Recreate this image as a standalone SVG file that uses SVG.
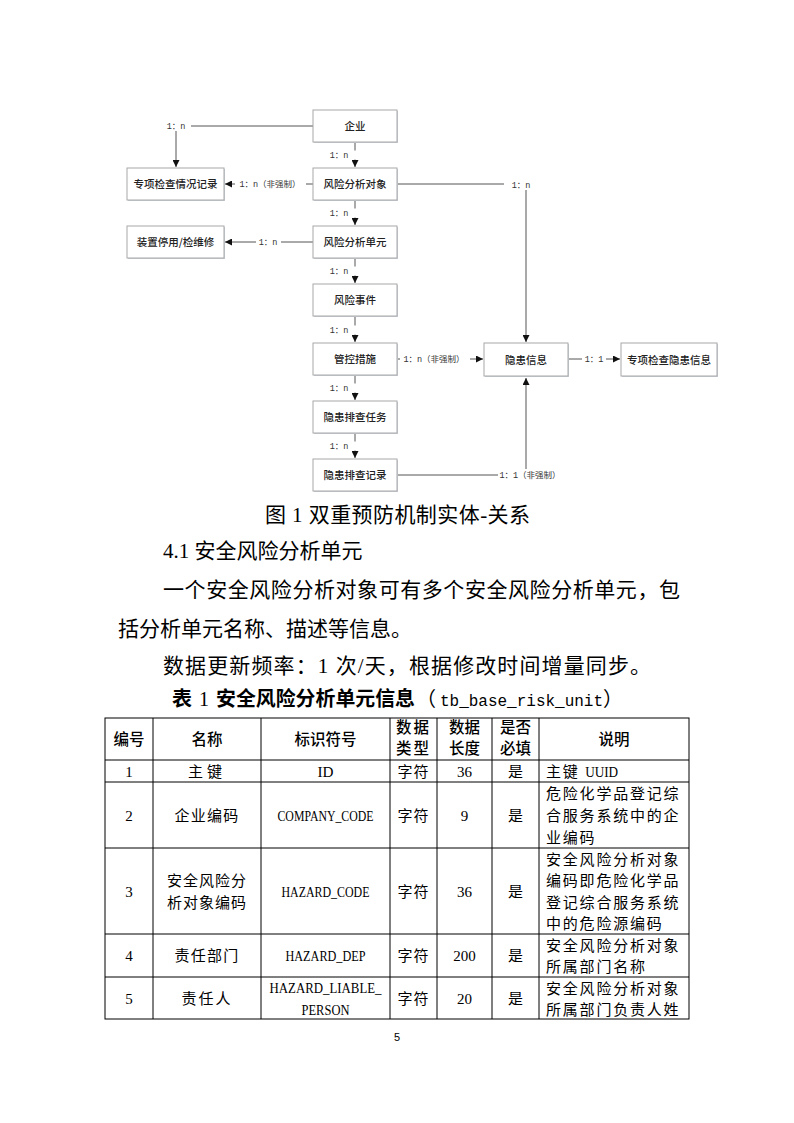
<svg xmlns="http://www.w3.org/2000/svg" width="794" height="1123" viewBox="0 0 794 1123">
<defs>
<marker id="arr" markerWidth="7" markerHeight="7" refX="7" refY="3.5" orient="auto" markerUnits="userSpaceOnUse"><path d="M0,0 L7,3.5 L0,7 z" fill="#111"/></marker>
<style>
.box{fill:#fff;stroke:#a8a8a8;stroke-width:1}
.sh{fill:#c9cfd8}
.nt{font-family:"Noto Sans CJK SC","Liberation Sans",sans-serif;font-size:10.5px;font-weight:500;fill:#222;text-anchor:middle}
.ln{fill:none;stroke:#555;stroke-width:1}
.lb{font-family:"Liberation Mono","Noto Sans CJK SC",monospace;font-size:8.5px;fill:#333;text-anchor:middle}
.bg{fill:#fff}
.p{font-family:"Liberation Serif","Noto Sans CJK SC",serif;font-size:21px;fill:#000}
.th{font-family:"Noto Sans CJK SC",sans-serif;font-size:15.5px;font-weight:500;fill:#000;text-anchor:middle}
.td{font-family:"Liberation Serif","Noto Sans CJK SC",serif;font-size:15px;fill:#000;text-anchor:middle}
.dl{font-family:"Liberation Serif","Noto Sans CJK SC",serif;font-size:15px;fill:#000;letter-spacing:1.8px}
.grid{stroke:#000;stroke-width:1;fill:none}
</style>
</defs>
<rect width="794" height="1123" fill="#fff"/>

<g id="connectors">
<path class="ln" d="M313,126 H176 V167" marker-end="url(#arr)"/>
<path class="ln" d="M355,142 V167" marker-end="url(#arr)"/>
<path class="ln" d="M355,200 V225" marker-end="url(#arr)"/>
<path class="ln" d="M355,258 V283" marker-end="url(#arr)"/>
<path class="ln" d="M355,316 V342" marker-end="url(#arr)"/>
<path class="ln" d="M355,375 V400" marker-end="url(#arr)"/>
<path class="ln" d="M355,433 V458" marker-end="url(#arr)"/>
<path class="ln" d="M313,184 H225" marker-end="url(#arr)"/>
<path class="ln" d="M313,242 H225" marker-end="url(#arr)"/>
<path class="ln" d="M397,184 H526 V342" marker-end="url(#arr)"/>
<path class="ln" d="M397,359 H483" marker-end="url(#arr)"/>
<path class="ln" d="M568,359 H620" marker-end="url(#arr)"/>
<path class="ln" d="M397,475 H526 V378" marker-end="url(#arr)"/>

<rect class="bg" x="163" y="120" width="28" height="11"/>
<text class="lb" x="176" y="129">1：n</text>
<rect class="bg" x="326" y="150.5" width="33" height="9"/>
<text class="lb" x="339" y="158">1：n</text>
<rect class="bg" x="326" y="208.5" width="33" height="9"/>
<text class="lb" x="339" y="216">1：n</text>
<rect class="bg" x="326" y="266.5" width="33" height="9"/>
<text class="lb" x="339" y="274">1：n</text>
<rect class="bg" x="326" y="325.5" width="33" height="9"/>
<text class="lb" x="339" y="333">1：n</text>
<rect class="bg" x="326" y="383.5" width="33" height="9"/>
<text class="lb" x="339" y="391">1：n</text>
<rect class="bg" x="326" y="441.5" width="33" height="9"/>
<text class="lb" x="339" y="449">1：n</text>
<rect class="bg" x="235" y="178" width="71" height="12"/>
<text class="lb" x="270" y="187">1：n（非强制）</text>
<rect class="bg" x="256" y="237" width="25" height="10"/>
<text class="lb" x="268" y="245">1：n</text>
<rect class="bg" x="504" y="179" width="32" height="11"/>
<text class="lb" x="521" y="188">1：n</text>
<rect class="bg" x="400" y="353" width="70" height="12"/>
<text class="lb" x="434" y="362">1：n（非强制）</text>
<rect class="bg" x="582" y="354" width="24" height="10"/>
<text class="lb" x="594" y="362">1：1</text>
<rect class="bg" x="498" y="469" width="64" height="12"/>
<text class="lb" x="530" y="478">1：1（非强制）</text>
</g>

<g id="n-qiye"><rect class="sh" x="314" y="111" width="84" height="32"/><rect class="box" x="313" y="110" width="84" height="32"/><text class="nt" x="355" y="130">企业</text></g>
<g id="n-duixiang"><rect class="sh" x="314" y="169" width="84" height="32"/><rect class="box" x="313" y="168" width="84" height="32"/><text class="nt" x="355" y="188">风险分析对象</text></g>
<g id="n-danyuan"><rect class="sh" x="314" y="227" width="84" height="32"/><rect class="box" x="313" y="226" width="84" height="32"/><text class="nt" x="355" y="246">风险分析单元</text></g>
<g id="n-shijian"><rect class="sh" x="314" y="285" width="84" height="32"/><rect class="box" x="313" y="284" width="84" height="32"/><text class="nt" x="355" y="304">风险事件</text></g>
<g id="n-guankong"><rect class="sh" x="314" y="344" width="84" height="32"/><rect class="box" x="313" y="343" width="84" height="32"/><text class="nt" x="355" y="363">管控措施</text></g>
<g id="n-renwu"><rect class="sh" x="314" y="402" width="84" height="32"/><rect class="box" x="313" y="401" width="84" height="32"/><text class="nt" x="355" y="421">隐患排查任务</text></g>
<g id="n-jilu"><rect class="sh" x="314" y="460" width="84" height="32"/><rect class="box" x="313" y="459" width="84" height="32"/><text class="nt" x="355" y="479">隐患排查记录</text></g>
<g id="n-zxjc"><rect class="sh" x="128" y="169" width="97" height="32"/><rect class="box" x="127" y="168" width="97" height="32"/><text class="nt" x="175.5" y="188">专项检查情况记录</text></g>
<g id="n-zhuangzhi"><rect class="sh" x="128" y="227" width="97" height="32"/><rect class="box" x="127" y="226" width="97" height="32"/><text class="nt" x="175.5" y="246">装置停用/检维修</text></g>
<g id="n-yinhuan"><rect class="sh" x="485" y="344" width="84" height="33"/><rect class="box" x="484" y="343" width="84" height="33"/><text class="nt" x="526" y="363.5">隐患信息</text></g>
<g id="n-zxyh"><rect class="sh" x="622" y="344" width="96" height="33"/><rect class="box" x="621" y="343" width="96" height="33"/><text class="nt" x="669" y="363.5">专项检查隐患信息</text></g>

<text class="p" x="265" y="522" textLength="265" lengthAdjust="spacing">图 1 双重预防机制实体-关系</text>
<text class="p" x="163" y="558">4.1 安全风险分析单元</text>
<text class="p" x="163" y="597" textLength="517" lengthAdjust="spacing">一个安全风险分析对象可有多个安全风险分析单元，包</text>
<text class="p" x="118" y="636">括分析单元名称、描述等信息。</text>
<text class="p" x="163" y="673" textLength="488" lengthAdjust="spacing">数据更新频率：1 次/天，根据修改时间增量同步。</text>
<text y="706" font-size="20"><tspan x="172" font-family="'Noto Sans CJK SC',sans-serif" font-weight="bold">表</tspan><tspan x="199" font-family="'Liberation Serif',serif">1</tspan><tspan x="216" font-family="'Noto Sans CJK SC',sans-serif" font-weight="bold" textLength="199" lengthAdjust="spacingAndGlyphs">安全风险分析单元信息</tspan><tspan x="416" font-family="'Noto Sans CJK SC',sans-serif">（</tspan><tspan x="440" font-family="'Liberation Mono',monospace" font-size="16" textLength="163" lengthAdjust="spacingAndGlyphs">tb_base_risk_unit</tspan><tspan x="603" font-family="'Noto Sans CJK SC',sans-serif">）</tspan></text>

<g id="table">
<rect class="grid" x="105" y="718" width="584" height="301"/>
<path class="grid" d="M153,718 V1019 M261,718 V1019 M390,718 V1019 M437,718 V1019 M492,718 V1019 M539,718 V1019 M105,760 H689 M105,782 H689 M105,848 H689 M105,934 H689 M105,977 H689"/>
<text class="th" x="129" y="745">编号</text>
<text class="th" x="207" y="745">名称</text>
<text class="th" x="325.5" y="745">标识符号</text>
<text class="th" x="413.5" y="733" letter-spacing="2">数据</text>
<text class="th" x="413.5" y="754" letter-spacing="2">类型</text>
<text class="th" x="464.5" y="733">数据</text>
<text class="th" x="464.5" y="754">长度</text>
<text class="th" x="515.5" y="733">是否</text>
<text class="th" x="515.5" y="754">必填</text>
<text class="th" x="614" y="745">说明</text>

<text class="td" x="129" y="777">1</text>
<text class="td" x="207" y="777" letter-spacing="4">主键</text>
<text class="td" x="325.5" y="777" textLength="16" lengthAdjust="spacingAndGlyphs">ID</text>
<text class="td" x="413.5" y="777" letter-spacing="1">字符</text>
<text class="td" x="464.5" y="777">36</text>
<text class="td" x="515.5" y="777">是</text>
<text class="dl" x="546" y="777">主键 <tspan letter-spacing="0" textLength="33" lengthAdjust="spacingAndGlyphs">UUID</tspan></text>

<text class="td" x="129" y="821">2</text>
<text class="td" x="207" y="821" letter-spacing="1.2">企业编码</text>
<text class="td" x="325.5" y="821" textLength="96" lengthAdjust="spacingAndGlyphs">COMPANY_CODE</text>
<text class="td" x="413.5" y="821" letter-spacing="1">字符</text>
<text class="td" x="464.5" y="821">9</text>
<text class="td" x="515.5" y="821">是</text>
<text class="dl" x="546" y="799">危险化学品登记综</text>
<text class="dl" x="546" y="821">合服务系统中的企</text>
<text class="dl" x="546" y="843">业编码</text>

<text class="td" x="129" y="897">3</text>
<text class="td" x="207" y="886" letter-spacing="1">安全风险分</text>
<text class="td" x="207" y="908" letter-spacing="1">析对象编码</text>
<text class="td" x="325.5" y="897" textLength="88" lengthAdjust="spacingAndGlyphs">HAZARD_CODE</text>
<text class="td" x="413.5" y="897" letter-spacing="1">字符</text>
<text class="td" x="464.5" y="897">36</text>
<text class="td" x="515.5" y="897">是</text>
<text class="dl" x="546" y="865">安全风险分析对象</text>
<text class="dl" x="546" y="886">编码即危险化学品</text>
<text class="dl" x="546" y="908">登记综合服务系统</text>
<text class="dl" x="546" y="929">中的危险源编码</text>

<text class="td" x="129" y="961">4</text>
<text class="td" x="207" y="961" letter-spacing="1.2">责任部门</text>
<text class="td" x="325.5" y="961" textLength="80" lengthAdjust="spacingAndGlyphs">HAZARD_DEP</text>
<text class="td" x="413.5" y="961" letter-spacing="1">字符</text>
<text class="td" x="464.5" y="961">200</text>
<text class="td" x="515.5" y="961">是</text>
<text class="dl" x="546" y="951">安全风险分析对象</text>
<text class="dl" x="546" y="972">所属部门名称</text>

<text class="td" x="129" y="1004">5</text>
<text class="td" x="207" y="1004" letter-spacing="2">责任人</text>
<text class="td" x="325.5" y="993" textLength="112" lengthAdjust="spacingAndGlyphs">HAZARD_LIABLE_</text>
<text class="td" x="325.5" y="1015" textLength="48" lengthAdjust="spacingAndGlyphs">PERSON</text>
<text class="td" x="413.5" y="1004" letter-spacing="1">字符</text>
<text class="td" x="464.5" y="1004">20</text>
<text class="td" x="515.5" y="1004">是</text>
<text class="dl" x="546" y="994">安全风险分析对象</text>
<text class="dl" x="546" y="1015">所属部门负责人姓</text>
</g>

<text x="397" y="1041" font-family="'Liberation Sans',sans-serif" font-size="11" text-anchor="middle" fill="#000">5</text>
</svg>
